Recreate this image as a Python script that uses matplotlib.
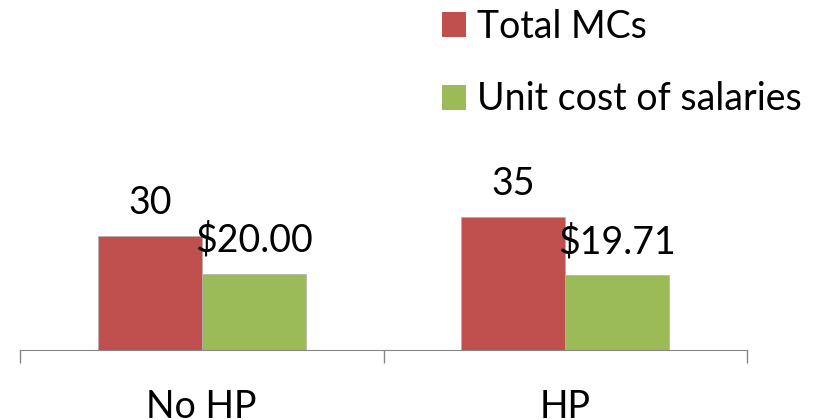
import numpy as np
import matplotlib.pyplot as plt
from matplotlib.patches import Patch

plt.rcParams['font.family'] = ['Lato', 'DejaVu Sans']

groups = ['No HP', 'HP']
total_mcs = [30, 35]
unit_cost = [20.00, 19.71]
mcs_labels = ['30', '35']
cost_labels = ['$20.00', '$19.71']

red = '#C0504D'
green = '#9BBB59'

fig = plt.figure(figsize=(8.31, 4.2), dpi=100)
ax = fig.add_axes([20/831, 70/420, 727/831, 220/420])

x = np.arange(len(groups))
w = 0.286
b1 = ax.bar(x - w/2, total_mcs, w, color=red, edgecolor='#b0b0b0', linewidth=0.5)
b2 = ax.bar(x + w/2, unit_cost, w, color=green, edgecolor='#b0b0b0', linewidth=0.5)

for bars, labs in [(b1, mcs_labels), (b2, cost_labels)]:
    for r, lab in zip(bars, labs):
        ax.annotate(lab, (r.get_x() + r.get_width()/2, r.get_height()),
                    xytext=(0, 16), textcoords='offset points',
                    ha='center', va='baseline', fontsize=27)

ax.set_xlim(-0.5, 1.5)
ax.set_ylim(0, 58)
ax.set_yticks([])
ax.set_xticks([-0.5, 0.5, 1.5])
ax.set_xticklabels([])
ax.set_xticks(x, minor=True)
ax.set_xticklabels(groups, minor=True, fontsize=27)
ax.tick_params(axis='x', which='major', length=9, width=1, color='#868686', direction='out')
ax.tick_params(axis='x', which='minor', length=0, pad=28)
for s in ['top', 'right', 'left']:
    ax.spines[s].set_visible(False)
ax.spines['bottom'].set_color('#868686')

handles = [Patch(facecolor=red), Patch(facecolor=green)]
fig.legend(handles, ['Total MCs', 'Unit cost of salaries'],
           loc='upper left', bbox_to_anchor=(442/831, 1 - 9/420),
           frameon=False, fontsize=27, borderpad=0, borderaxespad=0,
           handlelength=0.64, handleheight=0.64, handletextpad=0.29,
           labelspacing=0.97)

fig.savefig('out.png', dpi=100)
